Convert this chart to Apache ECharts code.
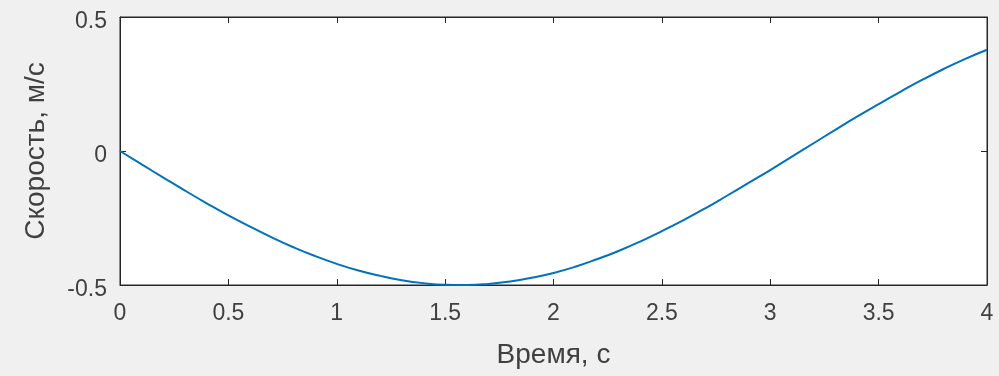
<!DOCTYPE html>
<html><head><meta charset="utf-8">
<script src="https://cdn.jsdelivr.net/npm/echarts@6/dist/echarts.min.js"></script>
<style>html,body{margin:0;padding:0;background:#f0f0f0}#c{width:999px;height:376px}</style>
</head><body><div id="c"></div>
<script>
const timeValues = [0,0.1,0.2,0.3,0.4,0.5,0.6,0.7,0.8,0.9,1.0,1.1,1.2,1.3,1.4,1.5,1.6,1.7,1.8,1.9,2.0,2.1,2.2,2.3,2.4,2.5,2.6,2.7,2.8,2.9,3.0,3.1,3.2,3.3,3.4,3.5,3.6,3.7,3.8,3.9,4.0];
const speedValues = [0,-0.05,-0.099,-0.148,-0.195,-0.24,-0.282,-0.322,-0.359,-0.392,-0.421,-0.446,-0.466,-0.482,-0.493,-0.499,-0.5,-0.496,-0.487,-0.473,-0.455,-0.432,-0.404,-0.373,-0.338,-0.299,-0.258,-0.214,-0.167,-0.119,-0.071,-0.021,0.029,0.079,0.128,0.175,0.221,0.265,0.306,0.344,0.378];
const xTitle = 'Время, с';
const yTitle = 'Скорость, м/с';

const chart = echarts.init(document.getElementById('c'));
const font = 'Liberation Sans, Arial, sans-serif';
const axisCol = '#262626';
const textCol = '#404040';
const tick = {show:true, inside:true, length:6, lineStyle:{color:axisCol}};
chart.setOption({
  backgroundColor:'#f0f0f0',
  animation:false,
  grid:{left:120, right:12, top:17, bottom:91, show:true, backgroundColor:'#ffffff', borderColor:axisCol, borderWidth:1},
  xAxis:[{
    type:'value', min:0, max:4, interval:0.5, position:'bottom',
    name:xTitle, nameLocation:'middle', nameGap:56,
    nameTextStyle:{fontFamily:font, fontSize:28, color:textCol},
    axisLine:{show:true, onZero:false, lineStyle:{color:axisCol}},
    axisTick:tick, splitLine:{show:false},
    axisLabel:{fontFamily:font, fontSize:23, color:textCol, margin:17}
  },{
    type:'value', min:0, max:4, interval:0.5, position:'top',
    axisLine:{show:true, onZero:false, lineStyle:{color:axisCol}},
    axisTick:tick, splitLine:{show:false}, axisLabel:{show:false}
  }],
  yAxis:[{
    type:'value', min:-0.5, max:0.5, interval:0.5, position:'left',
    name:yTitle, nameLocation:'middle', nameGap:70, nameRotate:90,
    nameTextStyle:{fontFamily:font, fontSize:28, color:textCol},
    axisLine:{show:true, onZero:false, lineStyle:{color:axisCol}},
    axisTick:tick, splitLine:{show:false},
    axisLabel:{margin:13, formatter:'{a|{value}}',
      rich:{a:{fontFamily:font, fontSize:23, color:textCol, padding:[10,0,0,0]}}}
  },{
    type:'value', min:-0.5, max:0.5, interval:0.5, position:'right',
    axisLine:{show:true, onZero:false, lineStyle:{color:axisCol}},
    axisTick:tick, splitLine:{show:false}, axisLabel:{show:false}
  }],
  series:[{
    type:'line', xAxisIndex:0, yAxisIndex:0,
    data: timeValues.map((t,i)=>[t, speedValues[i]]),
    showSymbol:false, smooth:true,
    lineStyle:{color:'#0072BD', width:2}
  }]
});
</script></body></html>
